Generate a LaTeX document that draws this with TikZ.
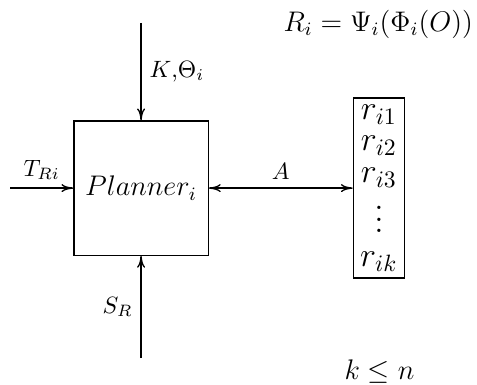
\documentclass[tikz,border=0pt]{standalone}
\usepackage{amsmath}
\usepackage{amssymb}
\usetikzlibrary{arrows.meta}

\newcommand{\rdots}{\vbox{\baselineskip=4.8pt \lineskiplimit=0pt \hbox{$.$}\hbox{$.$}\hbox{$.$}}}

\begin{document}
\begin{tikzpicture}[
    line width=0.55pt,
    >={To[length=5pt, width=3.4pt]},
    block/.style={draw, minimum size=2cm, inner sep=0pt},
    stack/.style={draw, minimum width=0.76cm, minimum height=2.68cm, inner sep=1pt, align=center, font=\Large},
    arrow/.style={->},
    big/.style={font=\large}
]
\useasboundingbox (-2.1,-2.93) rectangle (5.0,2.8);

% Planner
\node[block] (plan) at (0, 0) {\large $Planner_i$};

% Results
\node[stack] (res) at (3.54, 0) {$r_{i1}$\\[-4.6pt] $r_{i2}$\\[-4.6pt] $r_{i3}$\\[3.2pt] \rdots\\[-3.6pt] $r_{ik}$};

% Inputs
\coordinate (top) at (0, 2.46);
\coordinate (bot) at (0, -2.53);
\coordinate (lft) at (-1.95, 0);

% Formulas
\node[big] (form) at (3.53, 2.44) {$R_i = \Psi_i(\Phi_i(O))$};
\node[big] (cond) at (3.55, -2.73) {$k \leq n$};

% Arrows
\draw[arrow] (top) -- (plan) node[midway, right] {$K$,$\Theta_i$};
\draw[arrow] (bot) -- (plan) node[midway, left] {$S_R$};
\draw[arrow] (lft) -- (plan) node[midway, above] {$T_{Ri}$};
\draw[<->] (plan) -- (res) node[midway, above] {$A$};

\end{tikzpicture}
\end{document}
